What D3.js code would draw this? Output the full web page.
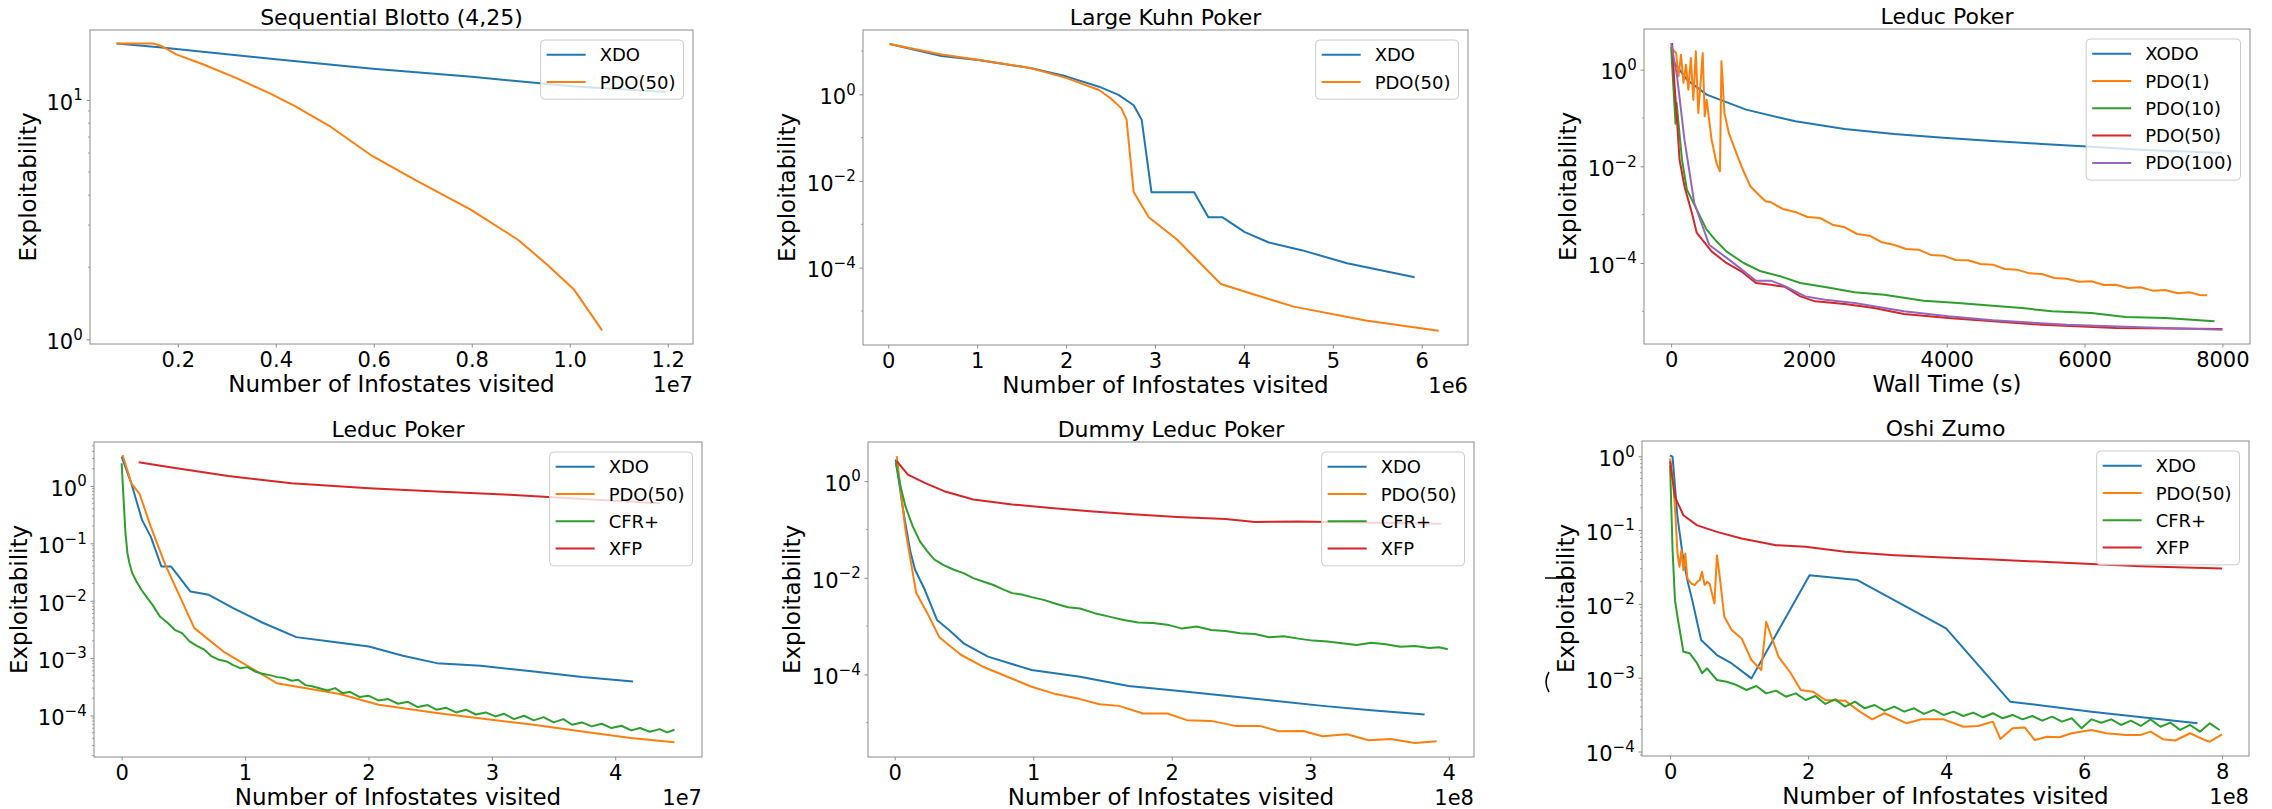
<!DOCTYPE html>
<html>
<head>
<meta charset="utf-8">
<script src="https://cdn.jsdelivr.net/npm/d3@7"></script>
<style>
  body { margin: 0; background: #fff; }
  text { font-family: "DejaVu Sans", sans-serif; fill: #000; }
</style>
</head>
<body>
<svg id="chart" width="2272" height="809"></svg>
<script>
// ---- Sequential Blotto (4,25) ----
const blottoXTicks = [0.2e7, 0.4e7, 0.6e7, 0.8e7, 1.0e7, 1.2e7];
const blottoXTickLabels = ["0.2", "0.4", "0.6", "0.8", "1.0", "1.2"];
const blottoYTicks = [1, 10];
const blottoXdoX = [0.075e7, 0.162e7, 0.4e7, 0.598e7, 0.8e7, 1.004e7, 1.197e7];
const blottoXdoY = [17.2, 16.6, 14.8, 13.5, 12.5, 11.4, 10.8];
const blottoPdoX = [0.075e7, 0.15e7, 0.167e7, 0.197e7, 0.251e7, 0.321e7, 0.39e7, 0.44e7, 0.509e7, 0.593e7, 0.687e7, 0.796e7, 0.895e7, 0.954e7, 1.009e7, 1.066e7];
const blottoPdoY = [17.2, 17.2, 16.8, 15.5, 14.1, 12.3, 10.6, 9.4, 7.8, 5.9, 4.6, 3.5, 2.6, 2.05, 1.61, 1.09];

// ---- Large Kuhn Poker ----
const kuhnXTicks = [0, 1e6, 2e6, 3e6, 4e6, 5e6, 6e6];
const kuhnXTickLabels = ["0", "1", "2", "3", "4", "5", "6"];
const kuhnYTicks = [1e-4, 1e-2, 1];
const kuhnXdoX = [0.016e6, 0.6e6, 1.01e6, 1.61e6, 2.0e6, 2.37e6, 2.59e6, 2.76e6, 2.85e6, 2.96e6, 3.44e6, 3.6e6, 3.76e6, 4.01e6, 4.28e6, 4.66e6, 5.16e6, 5.92e6];
const kuhnXdoY = [14.5, 7.7, 6.2, 4.0, 2.6, 1.5, 0.97, 0.56, 0.26, 5.5e-3, 5.5e-3, 1.45e-3, 1.45e-3, 6.6e-4, 3.8e-4, 2.5e-4, 1.26e-4, 6.0e-5];
const kuhnPdoX = [0.016e6, 0.6e6, 1.01e6, 1.61e6, 2.0e6, 2.37e6, 2.5e6, 2.62e6, 2.68e6, 2.76e6, 2.93e6, 3.25e6, 3.74e6, 4.06e6, 4.56e6, 5.37e6, 6.19e6];
const kuhnPdoY = [14.5, 8.3, 6.3, 4.0, 2.4, 1.26, 0.81, 0.48, 0.26, 5.6e-3, 1.45e-3, 4.4e-4, 4.2e-5, 2.6e-5, 1.26e-5, 6.0e-6, 3.5e-6];

// ---- Leduc Poker, wall time ----
const timeXTicks = [0, 2000, 4000, 6000, 8000];
const timeXTickLabels = ["0", "2000", "4000", "6000", "8000"];
const timeYTicks = [1e-4, 1e-2, 1];
const timeXodoX = [14, 229, 515, 1088, 1803, 2519, 3235, 3950, 4666, 5381, 6097, 6812, 8000];
const timeXodoY = [1.61, 0.62, 0.304, 0.149, 0.0853, 0.0592, 0.0467, 0.0392, 0.0334, 0.029, 0.0255, 0.0221, 0.0189];
const timePdo1X = [29, 72, 107, 143, 179, 215, 250, 286, 322, 358, 394, 429, 458, 487, 515, 587, 658, 708, 730, 744, 773, 837, 945, 1030,
  1150, 1270, 1370, 1450, 1620, 1800, 1980, 2160, 2340, 2520, 2700, 2880, 3060, 3230, 3410, 3590, 3770, 3950, 4130, 4310,
  4490, 4670, 4840, 5020, 5200, 5380, 5560, 5740, 5920, 6100, 6280, 6450, 6630, 6810, 6990, 7170, 7350, 7530, 7670, 7780];
const timePdo1Y = [2.59, 2.21, 0.728, 2.04, 0.53, 1.27, 0.386, 1.74, 0.239, 2.39, 0.127, 0.574, 2.21, 0.108, 0.239, 0.0356, 0.0117, 0.00788, 1.49, 0.728, 0.127, 0.049, 0.0189, 0.00924,
  3.86e-3, 2.59e-3, 1.89e-3, 1.80e-3, 1.31e-3, 1.14e-3, 8.95e-4, 8.53e-4, 6.21e-4, 5.47e-4, 3.98e-4, 3.68e-4, 2.68e-4, 2.39e-4, 1.95e-4, 1.89e-4, 1.47e-4, 1.42e-4, 1.15e-4, 1.14e-4,
  9.53e-5, 9.24e-5, 7.52e-5, 7.28e-5, 6.11e-5, 5.92e-5, 4.89e-5, 4.74e-5, 4.11e-5, 4.18e-5, 3.51e-5, 3.56e-5, 3.04e-5, 3.14e-5, 2.68e-5, 2.76e-5, 2.36e-5, 2.47e-5, 2.18e-5, 2.14e-5];
const timePdo10X = [0, 14, 64, 79, 157, 229, 372, 515, 658, 801, 1052, 1302, 1589, 1875, 2233, 2662, 3091, 3664, 4165, 4666, 5095, 5524, 6097, 6598, 7170, 7886];
const timePdo10Y = [3.0, 1.27, 0.0763, 0.204, 0.0137, 3.29e-3, 1.27e-3, 4.9e-4, 2.81e-4, 1.74e-4, 1.0e-4, 6.73e-5, 5.3e-5, 3.86e-5, 3.18e-5, 2.47e-5, 2.21e-5, 1.66e-5, 1.49e-5, 1.31e-5, 1.17e-5, 1.0e-5, 9.24e-6, 7.64e-6, 7.28e-6, 6.21e-6];
const timePdo50X = [14, 50, 72, 122, 193, 301, 372, 587, 801, 1016, 1231, 1446, 1660, 1875, 2090, 2519, 2948, 3378, 4022, 4666, 5381, 6455, 8000];
const timePdo50Y = [3.56, 0.452, 0.174, 0.0137, 3.86e-3, 1.08e-3, 4.18e-4, 1.74e-4, 1.0e-4, 6.73e-5, 3.86e-5, 3.56e-5, 3.18e-5, 2.04e-5, 1.61e-5, 1.42e-5, 1.17e-5, 8.8e-6, 7.28e-6, 6.21e-6, 5.3e-6, 4.52e-6, 4.31e-6];
const timePdo100X = [0, 86, 193, 336, 551, 873, 1231, 1446, 1660, 1946, 2233, 2662, 3378, 4022, 4666, 5739, 6812, 8000];
const timePdo100Y = [3.56, 0.728, 0.0356, 1.74e-3, 2.39e-4, 1.08e-4, 4.31e-5, 4.31e-5, 3.29e-5, 2.04e-5, 1.74e-5, 1.49e-5, 1.0e-5, 7.88e-6, 6.52e-6, 5.3e-6, 4.67e-6, 4.18e-6];

// ---- Leduc Poker, infostates ----
const leducXTicks = [0, 1e7, 2e7, 3e7, 4e7];
const leducXTickLabels = ["0", "1", "2", "3", "4"];
const leducYTicks = [1e-4, 1e-3, 1e-2, 1e-1, 1];
const leducXdoX = [0, 0.0786e7, 0.165e7, 0.236e7, 0.322e7, 0.401e7, 0.558e7, 0.707e7, 0.904e7, 1.139e7, 1.415e7, 1.69e7, 2.004e7, 2.279e7, 2.554e7, 2.908e7, 3.34e7, 3.733e7, 4.145e7];
const leducXdoY = [3.24, 1.11, 0.256, 0.131, 0.0394, 0.0394, 0.01445, 0.01265, 7.41e-3, 4.17e-3, 2.32e-3, 1.95e-3, 1.59e-3, 1.10e-3, 8.17e-4, 7.35e-4, 5.85e-4, 4.67e-4, 3.92e-4];
const leducPdoX = [0.0079e7, 0.0786e7, 0.145e7, 0.236e7, 0.354e7, 0.589e7, 0.825e7, 1.257e7, 1.768e7, 2.083e7, 2.554e7, 2.947e7, 3.34e7, 3.733e7, 4.126e7, 4.479e7];
const leducPdoY = [3.47, 1.11, 0.726, 0.196, 0.0422, 3.33e-3, 1.30e-3, 3.66e-4, 2.36e-4, 1.54e-4, 1.10e-4, 8.65e-5, 6.90e-5, 5.28e-5, 4.04e-5, 3.40e-5];
const leducCfrX = [0, 0.016e7, 0.031e7, 0.047e7, 0.063e7, 0.086e7, 0.12e7, 0.16e7, 0.2e7, 0.25e7,
  0.31e7, 0.37e7, 0.43e7, 0.49e7, 0.55e7, 0.61e7, 0.67e7, 0.73e7, 0.79e7, 0.85e7,
  0.9e7, 0.96e7, 1.02e7, 1.08e7, 1.14e7, 1.2e7, 1.26e7, 1.32e7, 1.38e7, 1.43e7,
  1.49e7, 1.55e7, 1.61e7, 1.67e7, 1.73e7, 1.79e7, 1.85e7, 1.93e7, 2.0e7, 2.08e7,
  2.16e7, 2.24e7, 2.32e7, 2.4e7, 2.48e7, 2.55e7, 2.63e7, 2.71e7, 2.79e7, 2.87e7,
  2.95e7, 3.03e7, 3.1e7, 3.18e7, 3.26e7, 3.34e7, 3.42e7, 3.5e7, 3.58e7, 3.65e7,
  3.73e7, 3.81e7, 3.89e7, 3.97e7, 4.05e7, 4.13e7, 4.2e7, 4.28e7, 4.36e7, 4.42e7, 4.48e7];
const leducCfrY = [2.48, 0.57, 0.15, 0.0673, 0.0451, 0.0302, 0.0216, 0.0155, 0.0118, 8.47e-3,
  5.31e-3, 4.17e-3, 3.11e-3, 2.72e-3, 1.95e-3, 1.64e-3, 1.40e-3, 1.07e-3, 9.34e-4, 8.73e-4,
  7.64e-4, 6.68e-4, 6.96e-4, 5.85e-4, 5.33e-4, 5.05e-4, 4.66e-4, 4.48e-4, 4.03e-4, 4.19e-4,
  3.38e-4, 3.21e-4, 2.96e-4, 2.73e-4, 3.0e-4, 2.45e-4, 2.59e-4, 2.09e-4, 2.21e-4, 1.83e-4,
  1.93e-4, 1.60e-4, 1.73e-4, 1.40e-4, 1.52e-4, 1.26e-4, 1.36e-4, 1.13e-4, 1.26e-4, 1.04e-4,
  1.13e-4, 9.64e-5, 1.07e-4, 8.65e-5, 9.89e-5, 8.2e-5, 9.38e-5, 7.57e-5, 8.65e-5, 6.9e-5,
  7.57e-5, 6.46e-5, 7.18e-5, 6.04e-5, 6.62e-5, 5.5e-5, 6.04e-5, 5.21e-5, 5.79e-5, 5.07e-5, 5.65e-5];
const leducXfpX = [0.138e7, 0.393e7, 0.864e7, 1.375e7, 2.004e7, 2.554e7, 3.143e7, 3.733e7, 4.361e7];
const leducXfpY = [2.58, 2.11, 1.49, 1.11, 0.91, 0.80, 0.70, 0.59, 0.50];

// ---- Dummy Leduc Poker ----
const dummyXTicks = [0, 1e8, 2e8, 3e8, 4e8];
const dummyXTickLabels = ["0", "1", "2", "3", "4"];
const dummyYTicks = [1e-4, 1e-2, 1];
const dummyXdoX = [0.007e8, 0.06e8, 0.112e8, 0.147e8, 0.217e8, 0.305e8, 0.392e8, 0.497e8, 0.673e8, 0.988e8, 1.338e8, 1.688e8, 2.039e8, 2.389e8, 2.739e8, 3.089e8, 3.44e8, 3.825e8];
const dummyXdoY = [2.82, 0.258, 0.0352, 0.01466, 5.64e-3, 1.34e-3, 8.32e-4, 4.41e-4, 2.33e-4, 1.23e-4, 8.95e-5, 5.73e-5, 4.58e-5, 3.61e-5, 2.84e-5, 2.23e-5, 1.82e-5, 1.48e-5];
const dummyPdoX = [0.014e8, 0.077e8, 0.154e8, 0.235e8, 0.322e8, 0.48e8, 0.637e8, 0.813e8, 0.988e8, 1.163e8, 1.338e8, 1.478e8, 1.618e8, 1.793e8, 1.968e8, 2.109e8, 2.284e8, 2.459e8, 2.634e8, 2.774e8, 2.949e8, 3.089e8, 3.265e8, 3.422e8, 3.58e8, 3.755e8, 3.912e8];
const dummyPdoY = [3.30, 0.0993, 4.97e-3, 1.85e-3, 5.86e-4, 2.52e-4, 1.44e-4, 8.95e-5, 5.55e-5, 3.91e-5, 3.08e-5, 2.42e-5, 2.23e-5, 1.55e-5, 1.55e-5, 1.13e-5, 1.09e-5, 8.59e-6, 8.59e-6, 6.67e-6, 6.76e-6, 5.25e-6, 5.77e-6, 4.34e-6, 4.61e-6, 3.81e-6, 4.13e-6];
const dummyCfrX = [0.007e8, 0.042e8, 0.077e8, 0.13e8, 0.182e8, 0.235e8, 0.287e8, 0.357e8, 0.427e8, 0.497e8, 0.567e8, 0.637e8, 0.708e8, 0.778e8, 0.848e8, 0.918e8, 0.988e8, 1.075e8, 1.163e8, 1.25e8, 1.338e8, 1.443e8, 1.548e8, 1.653e8,
  1.758e8, 1.863e8, 1.968e8, 2.074e8, 2.179e8, 2.284e8, 2.389e8, 2.494e8, 2.599e8, 2.704e8, 2.809e8, 2.914e8, 3.019e8, 3.124e8, 3.229e8, 3.335e8, 3.44e8, 3.545e8, 3.65e8, 3.755e8, 3.86e8, 3.93e8, 3.993e8];
const dummyCfrY = [2.40, 0.787, 0.303, 0.116, 0.0568, 0.0352, 0.0237, 0.018, 0.01466, 0.0125, 9.84e-3, 8.39e-3, 7.16e-3, 5.82e-3, 4.81e-3, 4.51e-3, 3.97e-3, 3.49e-3, 2.89e-3, 2.46e-3, 2.31e-3, 1.85e-3, 1.57e-3, 1.34e-3,
  1.18e-3, 1.16e-3, 1.07e-3, 8.87e-4, 9.77e-4, 8.32e-4, 7.94e-4, 7.10e-4, 6.87e-4, 5.86e-4, 6.15e-4, 5.50e-4, 5.0e-4, 4.77e-4, 4.41e-4, 4.07e-4, 4.54e-4, 4.20e-4, 3.75e-4, 3.87e-4, 3.52e-4, 3.64e-4, 3.30e-4];
const dummyXfpX = [0.014e8, 0.095e8, 0.217e8, 0.357e8, 0.567e8, 0.848e8, 1.128e8, 1.408e8, 1.688e8, 2.039e8, 2.389e8, 2.599e8, 2.914e8, 3.265e8, 3.947e8];
const dummyXfpY = [2.60, 1.37, 0.923, 0.62, 0.416, 0.328, 0.279, 0.238, 0.21, 0.182, 0.165, 0.143, 0.146, 0.141, 0.132];

// ---- Oshi Zumo ----
const oshiXTicks = [0, 2e8, 4e8, 6e8, 8e8];
const oshiXTickLabels = ["0", "2", "4", "6", "8"];
const oshiYTicks = [1e-4, 1e-3, 1e-2, 1e-1, 1];
const oshiXdoX = [0, 0.036e8, 0.107e8, 0.179e8, 0.25e8, 0.321e8, 0.45e8, 0.679e8, 0.893e8, 1.179e8, 2.021e8, 2.714e8, 4.0e8, 4.929e8, 6.107e8, 7.643e8];
const oshiXdoY = [1.03, 0.98, 0.151, 0.0482, 0.021, 0.01125, 3.24e-3, 2.03e-3, 1.56e-3, 9.8e-4, 0.0245, 0.021, 4.66e-3, 4.74e-4, 3.47e-4, 2.41e-4];
const oshiPdoX = [0, 0.036e8, 0.05e8, 0.079e8, 0.107e8, 0.136e8, 0.164e8, 0.193e8, 0.221e8, 0.25e8,
  0.307e8, 0.357e8, 0.393e8, 0.429e8, 0.464e8, 0.5e8, 0.536e8, 0.571e8, 0.607e8, 0.643e8,
  0.679e8, 0.714e8, 0.786e8, 0.893e8, 1.036e8, 1.179e8, 1.321e8, 1.393e8, 1.571e8, 1.75e8,
  1.893e8, 2.071e8, 2.25e8, 2.536e8, 2.75e8, 2.929e8, 3.107e8, 3.429e8, 3.643e8, 3.964e8,
  4.25e8, 4.464e8, 4.679e8, 4.786e8, 4.964e8, 5.143e8, 5.286e8, 5.464e8, 5.643e8, 5.821e8,
  6.107e8, 6.321e8, 6.607e8, 6.821e8, 6.964e8, 7.143e8, 7.321e8, 7.536e8, 7.75e8, 7.821e8, 8.0e8];
const oshiPdoY = [0.93, 0.525, 0.385, 0.151, 0.0482, 0.0318, 0.0535, 0.0287, 0.0482, 0.0221,
  0.0189, 0.018, 0.0199, 0.021, 0.0272, 0.018, 0.0199, 0.0189, 0.01386, 0.01014,
  0.0457, 0.0258, 6.7e-3, 4.42e-3, 3.41e-3, 1.74e-3, 1.27e-3, 5.73e-3, 1.93e-3, 1.15e-3,
  6.82e-4, 6.47e-4, 4.99e-4, 4.89e-4, 3.47e-4, 2.73e-4, 3.3e-4, 2.41e-4, 2.73e-4, 2.73e-4,
  2.17e-4, 2.22e-4, 2.54e-4, 1.48e-4, 2.07e-4, 2.11e-4, 1.43e-4, 1.59e-4, 1.56e-4, 1.77e-4,
  1.96e-4, 1.77e-4, 1.68e-4, 1.68e-4, 1.86e-4, 1.47e-4, 1.41e-4, 1.77e-4, 1.43e-4, 1.36e-4, 1.71e-4];
const oshiCfrX = [0, 0.036e8, 0.071e8, 0.107e8, 0.193e8, 0.286e8, 0.393e8, 0.464e8, 0.536e8, 0.679e8, 0.821e8, 0.964e8,
  1.107e8, 1.25e8, 1.393e8, 1.536e8, 1.679e8, 1.821e8, 1.964e8, 2.107e8, 2.25e8, 2.393e8,
  2.536e8, 2.679e8, 2.821e8, 2.964e8, 3.107e8, 3.25e8, 3.393e8, 3.536e8, 3.679e8, 3.821e8,
  3.964e8, 4.107e8, 4.25e8, 4.393e8, 4.536e8, 4.679e8, 4.821e8, 4.964e8, 5.107e8, 5.25e8,
  5.393e8, 5.536e8, 5.679e8, 5.821e8, 5.964e8, 6.107e8, 6.25e8, 6.393e8, 6.536e8, 6.679e8,
  6.821e8, 6.964e8, 7.107e8, 7.25e8, 7.393e8, 7.536e8, 7.679e8, 7.821e8, 7.964e8];
const oshiCfrY = [0.755, 0.0535, 0.01125, 6.7e-3, 2.25e-3, 2.14e-3, 1.56e-3, 1.15e-3, 1.34e-3, 9.31e-4, 8.83e-4, 7.96e-4,
  6.82e-4, 7.72e-4, 6.14e-4, 6.68e-4, 5.53e-4, 6.14e-4, 4.99e-4, 5.65e-4, 4.41e-4, 5.09e-4,
  4.06e-4, 4.74e-4, 3.85e-4, 4.27e-4, 3.58e-4, 4.06e-4, 3.47e-4, 3.85e-4, 3.23e-4, 3.66e-4,
  3.13e-4, 3.47e-4, 3.03e-4, 3.37e-4, 2.91e-4, 3.30e-4, 2.82e-4, 3.13e-4, 2.73e-4, 3.03e-4,
  2.62e-4, 2.97e-4, 2.54e-4, 2.82e-4, 2.07e-4, 2.73e-4, 2.46e-4, 2.73e-4, 2.29e-4, 2.62e-4,
  2.22e-4, 2.73e-4, 2.17e-4, 2.46e-4, 1.96e-4, 2.29e-4, 1.86e-4, 2.41e-4, 1.96e-4];
const oshiXfpX = [0, 0.071e8, 0.193e8, 0.393e8, 0.679e8, 1.036e8, 1.536e8, 1.964e8, 2.536e8, 3.25e8, 3.964e8, 4.679e8, 5.393e8, 6.107e8, 6.821e8, 8.0e8];
const oshiXfpY = [0.85, 0.282, 0.159, 0.116, 0.0946, 0.0769, 0.0625, 0.0593, 0.0507, 0.0457, 0.0426, 0.04, 0.0372, 0.0346, 0.0324, 0.0302];

const BLUE = "#1f77b4", ORANGE = "#ff7f0e", GREEN = "#2ca02c", RED = "#d62728", PURPLE = "#9467bd";
const FRAME = "#8c8c8c";

const panels = [
  { title: "Sequential Blotto (4,25)", box: { l: 90, r: 693, t: 30, b: 344 },
    xDomain: [0.0208e7, 1.2515e7], yDomain: [0.956, 19.6], minor: "subs",
    xTicks: blottoXTicks, xTickLabels: blottoXTickLabels, offset: "1e7", yTicks: blottoYTicks,
    xLabel: "Number of Infostates visited", yLabelGap: 54,
    series: [
      { name: "XDO", x: blottoXdoX, y: blottoXdoY, color: BLUE },
      { name: "PDO(50)", x: blottoPdoX, y: blottoPdoY, color: ORANGE }
    ] },
  { title: "Large Kuhn Poker", box: { l: 863, r: 1468, t: 30, b: 345 },
    xDomain: [-0.284e6, 6.52e6], yDomain: [1.64e-6, 30.5], minor: "decades",
    xTicks: kuhnXTicks, xTickLabels: kuhnXTickLabels, offset: "1e6", yTicks: kuhnYTicks,
    xLabel: "Number of Infostates visited", yLabelGap: 68,
    series: [
      { name: "XDO", x: kuhnXdoX, y: kuhnXdoY, color: BLUE },
      { name: "PDO(50)", x: kuhnPdoX, y: kuhnPdoY, color: ORANGE }
    ] },
  { title: "Leduc Poker", box: { l: 1644, r: 2250, t: 29, b: 344 },
    xDomain: [-394, 8401], yDomain: [2.11e-6, 6.93], minor: "decades",
    xTicks: timeXTicks, xTickLabels: timeXTickLabels, offset: null, yTicks: timeYTicks,
    xLabel: "Wall Time (s)", yLabelGap: 68,
    series: [
      { name: "XODO", x: timeXodoX, y: timeXodoY, color: BLUE },
      { name: "PDO(1)", x: timePdo1X, y: timePdo1Y, color: ORANGE },
      { name: "PDO(10)", x: timePdo10X, y: timePdo10Y, color: GREEN },
      { name: "PDO(50)", x: timePdo50X, y: timePdo50Y, color: RED },
      { name: "PDO(100)", x: timePdo100X, y: timePdo100Y, color: PURPLE }
    ] },
  { title: "Leduc Poker", box: { l: 94, r: 702, t: 442, b: 757 },
    xDomain: [-0.224e7, 4.703e7], yDomain: [1.89e-5, 5.83], minor: "subs",
    xTicks: leducXTicks, xTickLabels: leducXTickLabels, offset: "1e7", yTicks: leducYTicks,
    xLabel: "Number of Infostates visited", yLabelGap: 67,
    series: [
      { name: "XDO", x: leducXdoX, y: leducXdoY, color: BLUE },
      { name: "PDO(50)", x: leducPdoX, y: leducPdoY, color: ORANGE },
      { name: "CFR+", x: leducCfrX, y: leducCfrY, color: GREEN },
      { name: "XFP", x: leducXfpX, y: leducXfpY, color: RED }
    ] },
  { title: "Dummy Leduc Poker", box: { l: 868, r: 1474, t: 442, b: 757 },
    xDomain: [-0.193e8, 4.182e8], yDomain: [1.95e-6, 6.46], minor: "decades",
    xTicks: dummyXTicks, xTickLabels: dummyXTickLabels, offset: "1e8", yTicks: dummyYTicks,
    xLabel: "Number of Infostates visited", yLabelGap: 68,
    series: [
      { name: "XDO", x: dummyXdoX, y: dummyXdoY, color: BLUE },
      { name: "PDO(50)", x: dummyPdoX, y: dummyPdoY, color: ORANGE },
      { name: "CFR+", x: dummyCfrX, y: dummyCfrY, color: GREEN },
      { name: "XFP", x: dummyXfpX, y: dummyXfpY, color: RED }
    ] },
  { title: "Oshi Zumo", box: { l: 1642, r: 2249, t: 441, b: 756 },
    xDomain: [-0.407e8, 8.39e8], yDomain: [8.7e-5, 1.61], minor: "subs",
    xTicks: oshiXTicks, xTickLabels: oshiXTickLabels, offset: "1e8", yTicks: oshiYTicks,
    xLabel: "Number of Infostates visited", yLabelGap: 68,
    series: [
      { name: "XDO", x: oshiXdoX, y: oshiXdoY, color: BLUE },
      { name: "PDO(50)", x: oshiPdoX, y: oshiPdoY, color: ORANGE },
      { name: "CFR+", x: oshiCfrX, y: oshiCfrY, color: GREEN },
      { name: "XFP", x: oshiXfpX, y: oshiXfpY, color: RED }
    ] }
];

const svg = d3.select("#chart");
svg.append("rect").attr("width", 2272).attr("height", 809).attr("fill", "#fff");

panels.forEach(drawPanel);

function minorTicks(p, y) {
  const [lo, hi] = y.domain();
  const out = [];
  for (let e = Math.floor(Math.log10(lo)); e <= Math.ceil(Math.log10(hi)); e++) {
    if (p.minor === "subs") {
      for (let k = 2; k <= 9; k++) out.push(k * Math.pow(10, e));
    } else if (!p.yTicks.some(t => Math.abs(Math.log10(t) - e) < 1e-6)) {
      out.push(Math.pow(10, e));
    }
  }
  return out.filter(v => v >= lo && v <= hi);
}

function drawPanel(p) {
  const b = p.box;
  const x = d3.scaleLinear().domain(p.xDomain).range([b.l, b.r]);
  const y = d3.scaleLog().domain(p.yDomain).range([b.b, b.t]);
  const g = svg.append("g");

  const line = d3.line().x(d => x(d[0])).y(d => y(d[1]));
  p.series.forEach(s => {
    g.append("path")
      .datum(d3.zip(s.x, s.y))
      .attr("d", line)
      .attr("fill", "none")
      .attr("stroke", s.color)
      .attr("stroke-width", 2)
      .attr("stroke-linejoin", "round");
  });

  g.append("rect")
    .attr("x", b.l).attr("y", b.t)
    .attr("width", b.r - b.l).attr("height", b.b - b.t)
    .attr("fill", "none").attr("stroke", FRAME).attr("stroke-width", 1);

  // x axis
  const xAxis = g.append("g")
    .attr("transform", `translate(0,${b.b})`)
    .call(d3.axisBottom(x).tickValues(p.xTicks)
      .tickFormat((d, i) => p.xTickLabels[i]).tickSize(3.5).tickPadding(4.6))
    .attr("font-size", 21).attr("font-family", null);
  xAxis.select(".domain").remove();
  xAxis.selectAll(".tick line").attr("stroke", FRAME);

  // y axis (log, mathtext style labels)
  const yAxis = g.append("g")
    .attr("transform", `translate(${b.l},0)`)
    .call(d3.axisLeft(y).tickValues(p.yTicks).tickFormat(() => "").tickSize(3.5).tickPadding(3.8))
    .attr("font-size", 21).attr("font-family", null);
  yAxis.select(".domain").remove();
  yAxis.selectAll(".tick line").attr("stroke", FRAME);
  yAxis.selectAll(".tick text").each(function (d) {
    const t = d3.select(this).attr("dy", null).attr("y", 9.3);
    const e = Math.round(Math.log10(d));
    t.append("tspan").text("10");
    t.append("tspan").attr("font-size", 15).attr("dy", -9.5).text(e < 0 ? "\u2212" + (-e) : String(e));
  });
  g.append("g").selectAll("line")
    .data(minorTicks(p, y))
    .join("line")
    .attr("x1", b.l - 2).attr("x2", b.l)
    .attr("y1", d => y(d)).attr("y2", d => y(d))
    .attr("stroke", FRAME).attr("stroke-width", 0.8);

  if (p.offset) {
    g.append("text")
      .attr("x", b.r).attr("y", b.b + 47.5)
      .attr("text-anchor", "end").attr("font-size", 21)
      .text(p.offset);
  }

  g.append("text")
    .attr("x", (b.l + b.r) / 2).attr("y", b.b + 47.5)
    .attr("text-anchor", "middle").attr("font-size", 23)
    .text(p.xLabel);

  g.append("text")
    .attr("transform", `translate(${b.l - p.yLabelGap},${(b.t + b.b) / 2}) rotate(-90)`)
    .attr("text-anchor", "middle").attr("font-size", 23)
    .text("Exploitability");

  g.append("text")
    .attr("x", (b.l + b.r) / 2).attr("y", b.t - 5)
    .attr("text-anchor", "middle").attr("font-size", 22)
    .text(p.title);

  // legend
  const lg = g.append("g");
  const box = lg.append("rect");
  const items = lg.selectAll("g.item")
    .data(p.series)
    .join("g")
    .attr("class", "item")
    .attr("transform", (d, i) => `translate(0,${14.7 + i * 27.3})`);
  items.append("line")
    .attr("x1", 6).attr("x2", 45)
    .attr("stroke", d => d.color).attr("stroke-width", 2);
  items.append("text")
    .attr("x", 59).attr("y", 6.5)
    .attr("font-size", 18)
    .text(d => d.name);
  let maxW = 0;
  items.selectAll("text").each(function () { maxW = Math.max(maxW, this.getComputedTextLength()); });
  const w = 59 + maxW + 8;
  const h = 27.3 * p.series.length + 4.6;
  box.attr("width", w).attr("height", h).attr("rx", 4)
    .attr("fill", "#fff").attr("fill-opacity", 0.8)
    .attr("stroke", "#cccccc").attr("stroke-width", 1);
  lg.attr("transform", `translate(${b.r - 9.5 - w},${b.t + 10})`);
}

// stray marks left of the Oshi Zumo y label
svg.append("line")
  .attr("x1", 1545).attr("x2", 1576).attr("y1", 578).attr("y2", 578)
  .attr("stroke", "#000").attr("stroke-width", 1.5);
svg.append("path")
  .attr("d", "M1549,672 Q1543,682 1549,692")
  .attr("fill", "none").attr("stroke", "#000").attr("stroke-width", 1.5);
</script>
</body>
</html>
